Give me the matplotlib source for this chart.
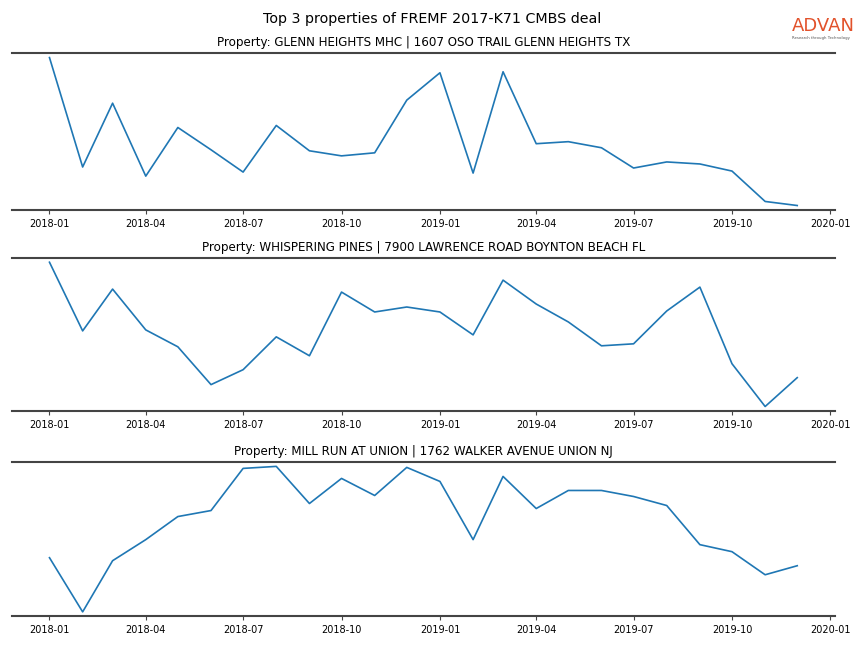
import pandas as pd
import matplotlib
matplotlib.use("Agg")
import matplotlib.pyplot as plt
import matplotlib.dates as mdates

# monthly foot traffic for the top 3 properties of the deal
months = pd.date_range("2018-01-01", periods=24, freq="MS")

titles = [
    "Property: GLENN HEIGHTS MHC | 1607 OSO TRAIL GLENN HEIGHTS TX",
    "Property: WHISPERING PINES | 7900 LAWRENCE ROAD BOYNTON BEACH FL",
    "Property: MILL RUN AT UNION | 1762 WALKER AVENUE UNION NJ",
]

glenn_heights = [162, 54, 117, 45, 93, 71, 49, 95, 70, 65, 68, 120,
                 147, 48, 148, 77, 79, 73, 53, 59, 57, 50, 20, 16]
whispering_pines = [157, 88, 130, 89, 72, 34, 49, 82, 63, 127, 107, 112,
                    107, 84, 139, 115, 97, 73, 75, 108, 132, 55, 12, 41]
mill_run = [67, 13, 64, 85, 108, 114, 156, 158, 121, 146, 129, 157,
            143, 85, 148, 116, 134, 134, 128, 119, 80, 73, 50, 59]

series = [glenn_heights, whispering_pines, mill_run]

fig, axes = plt.subplots(3, 1, figsize=(8.64, 6.48), dpi=100)
# axes boxes (left, bottom, width, height) in figure fractions
boxes = [(0.014, 0.676, 0.952, 0.242),
         (0.014, 0.366, 0.952, 0.236),
         (0.014, 0.049, 0.952, 0.238)]

for ax, box, title, vals in zip(axes, boxes, titles, series):
    ax.set_position(box)
    ax.plot(months, vals, color="#1f77b4", linewidth=1.2)
    ax.set_title(title, fontsize=8.6, pad=5)
    ax.set_yticks([])
    ax.margins(y=0.03)
    ax.spines["left"].set_visible(False)
    ax.spines["right"].set_visible(False)
    for s in ("top", "bottom"):
        ax.spines[s].set_color("#444444")
        ax.spines[s].set_linewidth(1.5)
    ax.xaxis.set_major_locator(mdates.MonthLocator(bymonth=[1, 4, 7, 10]))
    ax.xaxis.set_major_formatter(mdates.DateFormatter("%Y-%m"))
    ax.tick_params(axis="x", labelsize=7, length=3, color="#444444")

fig.suptitle("Top 3 properties of FREMF 2017-K71 CMBS deal", fontsize=10.3, y=0.982)

# logo
fig.text(0.916, 0.960, "ADVAN", color="#e2522b", fontsize=13,
         ha="left", va="center")
fig.text(0.917, 0.942, "Research through Technology", color="#555555", fontsize=2.8,
         ha="left", va="center")

fig.savefig("out.png", dpi=100)
